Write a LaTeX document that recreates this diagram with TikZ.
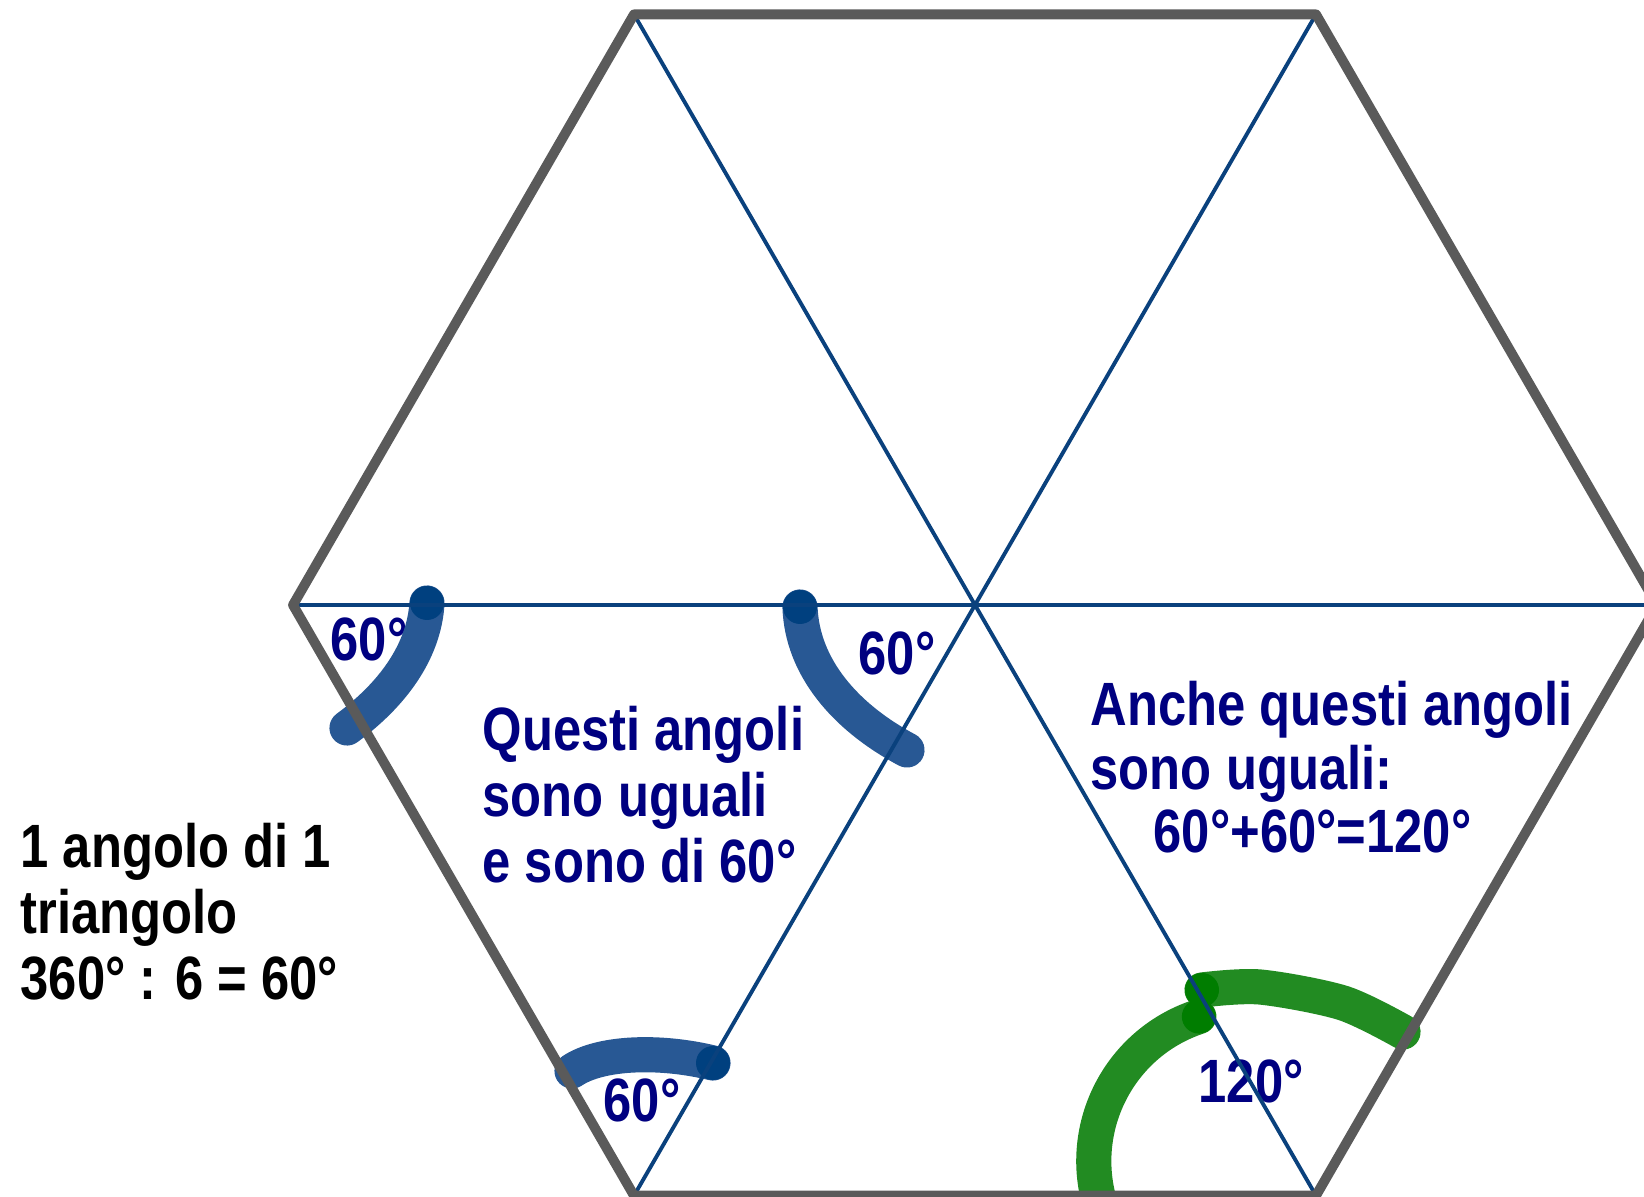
\documentclass[tikz,border=0pt]{standalone}
\usepackage{fontspec}
\usetikzlibrary{calc}
\newfontfamily\arialnarrow{Liberation Sans}[FakeStretch=0.83]
\definecolor{grigiobordo}{RGB}{90,90,90}
\definecolor{bluelinea}{RGB}{10,65,125}
\definecolor{bluetratto}{RGB}{40,88,148}
\definecolor{bluescuro}{RGB}{0,64,127}
\definecolor{verdetratto}{RGB}{34,139,34}
\definecolor{verdescuro}{RGB}{0,125,0}
\definecolor{blunotte}{RGB}{0,0,128}
\tikzset{
    testo/.style={inner sep=0pt, anchor=base west, align=left, font=\arialnarrow\bfseries\fontsize{17.4}{18.8}\selectfont},
    tratto/.style={line width=10pt, line cap=round, line join=round},
}
\begin{document}
\begin{tikzpicture}
    \useasboundingbox (0,0) rectangle (16.44,11.97);
    \clip (0,0) rectangle (16.44,11.97);
    \coordinate (O) at (9.75,5.92);
    \foreach \k in {0,...,5} {
        \coordinate (V\k) at ($(O)+(60*\k:6.82)$);
    }

    %scritte (base = ultima riga)
    \node[testo, text=blunotte] (qa) at (3.30,5.36) {60°};
    \node[testo, text=blunotte] (qb) at (8.58,5.22) {60°};
    \node[testo, text=blunotte] (qc) at (6.03,0.75) {60°};
    \node[testo, text=blunotte] (qd) at (11.98,0.94) {120°};
    \node[testo, text=blunotte] (questi) at (4.82,3.14) {Questi angoli\\sono uguali\\e sono di 60°};
    \node[testo, text=blunotte, font=\arialnarrow\bfseries\fontsize{17.4}{18.1}\selectfont] (anche) at (10.90,3.44) {Anche questi angoli\\sono uguali:\\\hspace*{0.63cm}60°+60°=120°};
    \node[testo] (uno) at (0.20,1.97) {1 angolo di 1\\triangolo\\360° : 6 = 60°};

    %tratti degli angoli
    \draw[tratto, bluetratto] (4.27,5.94) .. controls (4.24,5.45) and (3.92,5.02) .. (3.47,4.69);
    \fill[bluescuro] (4.27,5.94) circle (0.17);
    \draw[tratto, bluetratto] (8.00,5.90) .. controls (8.02,5.30) and (8.45,4.80) .. (9.07,4.47);
    \fill[bluescuro] (8.00,5.90) circle (0.17);
    \draw[tratto, bluetratto] (5.72,1.26) .. controls (6.00,1.45) and (6.60,1.47) .. (7.13,1.34);
    \fill[bluescuro] (7.13,1.34) circle (0.17);
    \draw[tratto, verdetratto] (10.99,-0.035) arc[start angle=195, end angle=108, radius=1.52] coordinate (g1);
    \draw[tratto, verdetratto] plot[smooth] coordinates {(12.02,2.07) (12.60,2.10) (13.43,1.94) (14.03,1.65)};
    \fill[verdescuro] (12.02,2.07) circle (0.17) (g1) circle (0.17);

    %diagonali
    \draw[bluelinea, line width=1.1pt] (V3) -- (V0) (V2) -- (V5) (V1) -- (V4);

    %esagono
    \draw[grigiobordo, line width=2.8pt, line join=round] (V0) -- (V1) -- (V2) -- (V3) -- (V4) -- (V5) -- cycle;
\end{tikzpicture}
\end{document}
